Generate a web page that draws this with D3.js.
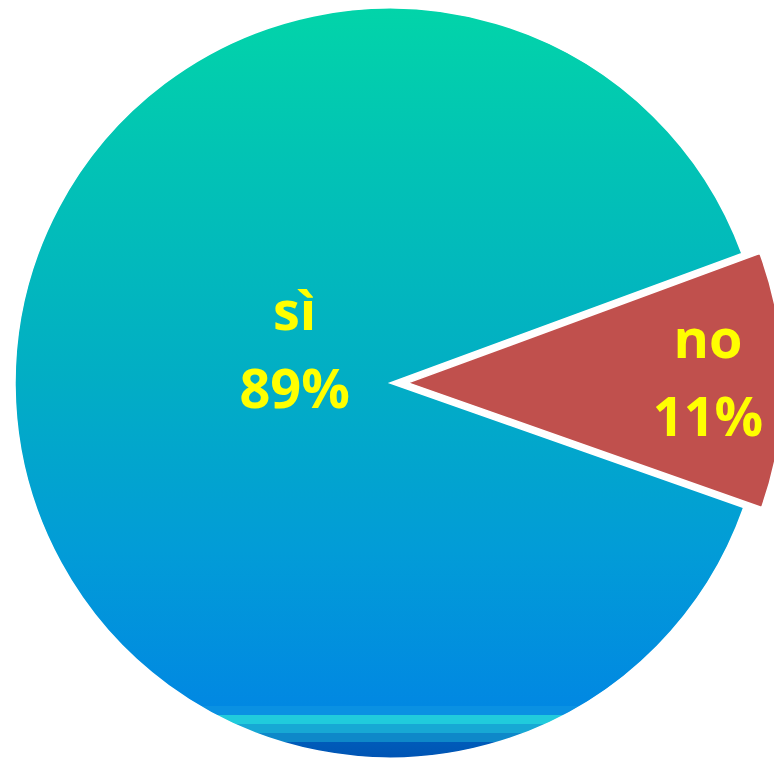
<!DOCTYPE html>
<html>
<head>
<meta charset="utf-8">
<script src="https://cdn.jsdelivr.net/npm/d3@7"></script>
<style>
  html, body { margin: 0; padding: 0; background: #ffffff; }
  svg { display: block; }
</style>
</head>
<body>
<svg id="chart" width="774" height="758"></svg>
<script>
// Survey answers and their shares (percent)
const categories = ["sì", "no"];
const values = [89, 11];
const valueLabels = ["89%", "11%"];

const W = 774, H = 758;
const cx = 390, cy = 383, R = 375;
const deg = Math.PI / 180;

const svg = d3.select("#chart");
const defs = svg.append("defs");

// Vertical teal-to-blue fill for the large slice, with the banded foot
// (band positions are page y values, mapped onto the pie's height)
const bands = [
  [8, "#02d4a9"], [150, "#02c4b4"], [383, "#02adc5"], [550, "#029cd7"], [706, "#0188e2"],
  [706, "#0a91e2"], [715, "#0a91e2"],
  [715, "#20cbdc"], [724, "#20cbdc"],
  [724, "#17a8d4"], [733, "#17a8d4"],
  [733, "#0e88c9"], [742, "#0e88c9"],
  [742, "#005bb9"], [758, "#0054b4"]
];
const grad = defs.append("linearGradient")
  .attr("id", "tealBlue")
  .attr("gradientUnits", "userSpaceOnUse")
  .attr("x1", 0).attr("y1", -R)
  .attr("x2", 0).attr("y2", R);
grad.selectAll("stop").data(bands).join("stop")
  .attr("offset", d => ((d[0] - (cy - R)) / (2 * R)).toFixed(4))
  .attr("stop-color", d => d[1]);

const fills = ["url(#tealBlue)", "#c0504d"];
const explode = [0, 18];
const labelRadius = [100, 300];
const labelTurn = [18 * deg, 0];

const pie = d3.pie().sort(null).value(d => d)
  .startAngle(109.4 * deg).endAngle(109.4 * deg + 2 * Math.PI);
const arcs = pie(values);
const arc = d3.arc().innerRadius(0).outerRadius(R);

const g = svg.append("g").attr("transform", `translate(${cx},${cy})`);

const slice = g.selectAll("g.slice").data(arcs).join("g")
  .attr("class", "slice")
  .attr("transform", (d, i) => {
    const mid = (d.startAngle + d.endAngle) / 2;
    return `translate(${Math.sin(mid) * explode[i]},${-Math.cos(mid) * explode[i]})`;
  });

slice.append("path")
  .attr("d", arc)
  .attr("fill", (d, i) => fills[i])
  .attr("stroke", "#ffffff")
  .attr("stroke-width", 1.5)
  .attr("stroke-linejoin", "miter");

const label = slice.append("text")
  .attr("text-anchor", "middle")
  .attr("font-family", "'Open Sans', Lato, sans-serif")
  .attr("font-weight", "bold")
  .attr("font-size", 54)
  .attr("fill", "#ffff00")
  .attr("transform", (d, i) => {
    const a = (d.startAngle + d.endAngle) / 2 + labelTurn[i];
    return `translate(${Math.sin(a) * labelRadius[i]},${-Math.cos(a) * labelRadius[i]})`;
  });

label.append("tspan").attr("x", 0).attr("y", -23).text((d, i) => categories[i]);
label.append("tspan").attr("x", 0).attr("y", 55).text((d, i) => valueLabels[i]);
</script>
</body>
</html>
